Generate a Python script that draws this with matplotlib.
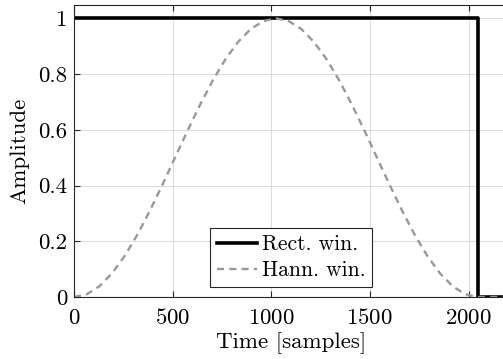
import numpy as np
import matplotlib
matplotlib.use('Agg')
import matplotlib.pyplot as plt
from matplotlib.ticker import FormatStrFormatter

plt.rcParams['font.family'] = 'cmr10'
plt.rcParams['mathtext.fontset'] = 'cm'
plt.rcParams['axes.formatter.use_mathtext'] = True

# Rectangular window
rect_t = [0, 2048, 2048, 2200]
rect_a = [1, 1, 0, 0]

# Hann window, read every 64 samples
hann_t = [0, 64, 128, 192, 256, 320, 384, 448, 512, 576, 640, 704, 768, 832, 896, 960,
          1024, 1088, 1152, 1216, 1280, 1344, 1408, 1472, 1536, 1600, 1664, 1728, 1792,
          1856, 1920, 1984, 2048, 2200]
hann_a = [0, 0.0096, 0.0381, 0.0843, 0.1464, 0.2222, 0.3087, 0.4025, 0.5, 0.5975, 0.6913,
          0.7778, 0.8536, 0.9157, 0.9619, 0.9904, 1.0, 0.9904, 0.9619, 0.9157, 0.8536,
          0.7778, 0.6913, 0.5975, 0.5, 0.4025, 0.3087, 0.2222, 0.1464, 0.0843, 0.0381,
          0.0096, 0, 0]

fig = plt.figure(figsize=(5.03, 3.59), dpi=100)
ax = fig.add_axes([74 / 503, 62 / 359, 434 / 503, 292 / 359])
ax.plot(rect_t, rect_a, color='black', lw=2.6, label='Rect. win.')
ax.plot(hann_t, hann_a, color='#999999', lw=1.7, ls=(0, (3, 2.2)), label='Hann. win.')

ax.set_xlim(0, 2200)
ax.set_ylim(0, 1.048)
ax.set_xticks([0, 500, 1000, 1500, 2000])
ax.set_yticks([0, 0.2, 0.4, 0.6, 0.8, 1])
ax.yaxis.set_major_formatter(FormatStrFormatter('%g'))
ax.tick_params(direction='in', labelsize=16.5, color='#262626', length=4,
               top=True, pad=5)
ax.tick_params(axis='x', pad=8)
ax.grid(True, color='#dddddd', lw=0.8)
ax.set_axisbelow(True)
for s in ax.spines.values():
    s.set_color('#262626')
    s.set_linewidth(0.8)
ax.spines['right'].set_visible(False)

ax.set_xlabel('Time [samples]', fontsize=16.5, labelpad=3)
ax.set_ylabel('Amplitude', fontsize=16.5, labelpad=6)

leg = ax.legend(loc='lower center', bbox_to_anchor=(0.5, 0.035), fontsize=15.5,
                fancybox=False, edgecolor='#262626', framealpha=1,
                handlelength=1.9, handletextpad=0.2, borderpad=0.3,
                labelspacing=0.3, borderaxespad=0)
leg.get_frame().set_linewidth(0.8)

plt.savefig('out.png', dpi=100)
